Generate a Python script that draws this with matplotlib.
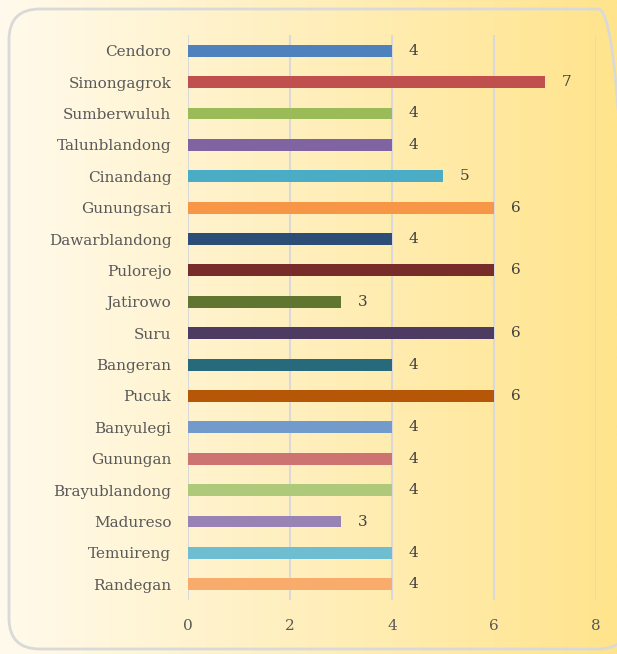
import numpy as np
import matplotlib.pyplot as plt
from matplotlib.patches import FancyBboxPatch

# Data
villages = ['Cendoro', 'Simongagrok', 'Sumberwuluh', 'Talunblandong', 'Cinandang',
            'Gunungsari', 'Dawarblandong', 'Pulorejo', 'Jatirowo', 'Suru',
            'Bangeran', 'Pucuk', 'Banyulegi', 'Gunungan', 'Brayublandong',
            'Madureso', 'Temuireng', 'Randegan']
counts = [4, 7, 4, 4, 5, 6, 4, 6, 3, 6, 4, 6, 4, 4, 4, 3, 4, 4]
colors = ['#4F81BD', '#C0504D', '#9BBB59', '#8064A2', '#4BACC6', '#F79646',
          '#2C4D75', '#772C2A', '#5F7530', '#4D3B62', '#276A7C', '#B65708',
          '#729ACA', '#CD7371', '#AFC97A', '#9983B5', '#6FBDD1', '#F9AB6B']
xticks = [0, 2, 4, 6, 8]

plt.rcParams['font.family'] = ['DejaVu Serif']
text_color = '#595959'

fig = plt.figure(figsize=(6.17, 6.54), dpi=100)

# gradient background
bg = fig.add_axes([0, 0, 1, 1], zorder=0)
grad = np.linspace(0, 1, 256).reshape(1, -1)
c0 = np.array([255, 250, 236]) / 255.0
c1 = np.array([255, 228, 140]) / 255.0
img = c0[None, None, :] * (1 - grad[..., None]) + c1[None, None, :] * grad[..., None]
bg.imshow(img, aspect='auto', extent=[0, 1, 0, 1])
bg.set_xlim(0, 1)
bg.set_ylim(0, 1)
bg.axis('off')
border = FancyBboxPatch((9 / 617, 5 / 654), 620 / 617, 640 / 654,
                        boxstyle='round,pad=0,rounding_size=0.05',
                        transform=bg.transAxes, facecolor='none',
                        edgecolor='#D9D9D9', linewidth=2, clip_on=False,
                        mutation_aspect=617 / 654)
bg.add_patch(border)

ax = fig.add_axes([188 / 617, 1 - 600 / 654, 408 / 617, 565 / 654], zorder=1)
ax.patch.set_alpha(0)
y = np.arange(len(villages))
ax.barh(y, counts, height=0.38, color=colors, zorder=2)
for yi, v in zip(y, counts):
    ax.annotate(str(v), (v, yi), xytext=(12, 0), textcoords='offset points',
                va='center', ha='left', fontsize=11, color='#404040')

ax.set_ylim(len(villages) - 0.5, -0.5)
ax.set_xlim(0, 8)
ax.set_xticks(xticks)
ax.set_yticks(y)
ax.set_yticklabels(villages)
ax.tick_params(axis='both', length=0, labelsize=11, labelcolor=text_color)
ax.tick_params(axis='y', pad=12)
ax.tick_params(axis='x', pad=14)
ax.grid(axis='x', color='#D9D9D9', linewidth=1.5, zorder=0)
ax.set_axisbelow(True)
for s in ax.spines.values():
    s.set_visible(False)

plt.savefig('out.png', dpi=100)
